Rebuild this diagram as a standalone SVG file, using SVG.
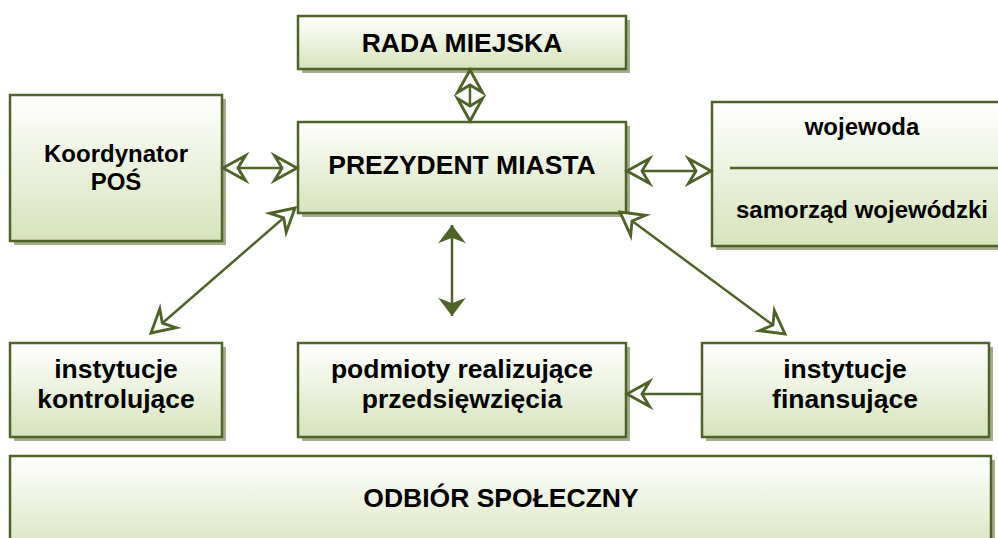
<svg xmlns="http://www.w3.org/2000/svg" width="998" height="538" viewBox="0 0 998 538">
<defs>
<linearGradient id="g" x1="0" y1="0" x2="0" y2="1">
<stop offset="0" stop-color="#ffffff"/>
<stop offset="1" stop-color="#d7e3bc"/>
</linearGradient>
<marker id="open" markerUnits="userSpaceOnUse" markerWidth="30" markerHeight="30" viewBox="-20 -12 24 24" refX="0" refY="0" orient="auto-start-reverse" overflow="visible">
<path d="M0,0 L-18,-10 L-12,0 L-18,10 Z" fill="#ffffff" stroke="#4f6228" stroke-width="2.3" stroke-linejoin="miter"/>
</marker>
<marker id="solid" markerUnits="userSpaceOnUse" markerWidth="30" markerHeight="30" viewBox="-20 -14 24 28" refX="0" refY="0" orient="auto-start-reverse" overflow="visible">
<path d="M0,0 L-17,-13 L-12,0 L-17,13 Z" fill="#4f6228"/>
</marker>
</defs>
<style>
.sh{fill:#a4ae8c}
.bx{fill:url(#g);stroke:#4f6228;stroke-width:2.5}
.t{font-family:"Liberation Sans",Arial,sans-serif;font-weight:bold;font-size:26.5px;fill:#000;text-anchor:middle}
.s{font-size:24px}
.c{fill:none;stroke:#4f6228;stroke-width:2.5}
</style>
<g id="rada">
<rect class="sh" x="302" y="20" width="328" height="53"/>
<rect class="bx" x="298" y="16" width="328" height="53"/>
<text class="t" x="462" y="52">RADA MIEJSKA</text>
</g>
<g id="prezydent">
<rect class="sh" x="302" y="126" width="328" height="91"/>
<rect class="bx" x="298" y="122" width="328" height="91"/>
<text class="t" x="462" y="174">PREZYDENT MIASTA</text>
</g>
<g id="koordynator">
<rect class="sh" x="14" y="99" width="212" height="146"/>
<rect class="bx" x="10" y="95" width="212" height="146"/>
<text class="t s" x="116" y="162">Koordynator</text>
<text class="t s" x="116" y="190">POŚ</text>
</g>
<g id="wojewoda">
<rect class="sh" x="716" y="106" width="300" height="144"/>
<rect class="bx" x="712" y="102" width="300" height="144"/>
<line x1="730" y1="168" x2="1000" y2="168" stroke="#4f6228" stroke-width="2.5"/>
<text class="t s" x="862" y="135">wojewoda</text>
<text class="t s" x="862" y="218">samorząd wojewódzki</text>
</g>
<g id="kontrolujace">
<rect class="sh" x="14" y="347" width="212" height="94"/>
<rect class="bx" x="10" y="343" width="212" height="94"/>
<text class="t" x="116" y="378">instytucje</text>
<text class="t" x="116" y="408">kontrolujące</text>
</g>
<g id="podmioty">
<rect class="sh" x="302" y="347" width="328" height="94"/>
<rect class="bx" x="298" y="343" width="328" height="94"/>
<text class="t" x="462" y="378">podmioty realizujące</text>
<text class="t" x="462" y="408">przedsięwzięcia</text>
</g>
<g id="finansujace">
<rect class="sh" x="706" y="347" width="287" height="94"/>
<rect class="bx" x="702" y="343" width="287" height="94"/>
<text class="t" x="845" y="378">instytucje</text>
<text class="t" x="845" y="408">finansujące</text>
</g>
<g id="odbior">
<rect class="sh" x="14" y="460" width="981" height="100"/>
<rect class="bx" x="10" y="456" width="981" height="100"/>
<text class="t" x="501" y="507">ODBIÓR SPOŁECZNY</text>
</g>
<g id="connectors">
<line class="c" x1="470" y1="70" x2="470" y2="121" marker-start="url(#open)" marker-end="url(#open)"/>
<line class="c" x1="223" y1="168" x2="297" y2="168" marker-start="url(#open)" marker-end="url(#open)"/>
<line class="c" x1="627" y1="171" x2="711" y2="171" marker-start="url(#open)" marker-end="url(#open)"/>
<line class="c" x1="295" y1="208" x2="151" y2="333" marker-start="url(#open)" marker-end="url(#open)"/>
<line class="c" x1="620" y1="212" x2="785" y2="334" marker-start="url(#open)" marker-end="url(#open)"/>
<line class="c" x1="452" y1="225" x2="452" y2="316" marker-start="url(#solid)" marker-end="url(#solid)"/>
<line class="c" x1="701" y1="394" x2="627" y2="394" marker-end="url(#open)"/>
</g>
</svg>
